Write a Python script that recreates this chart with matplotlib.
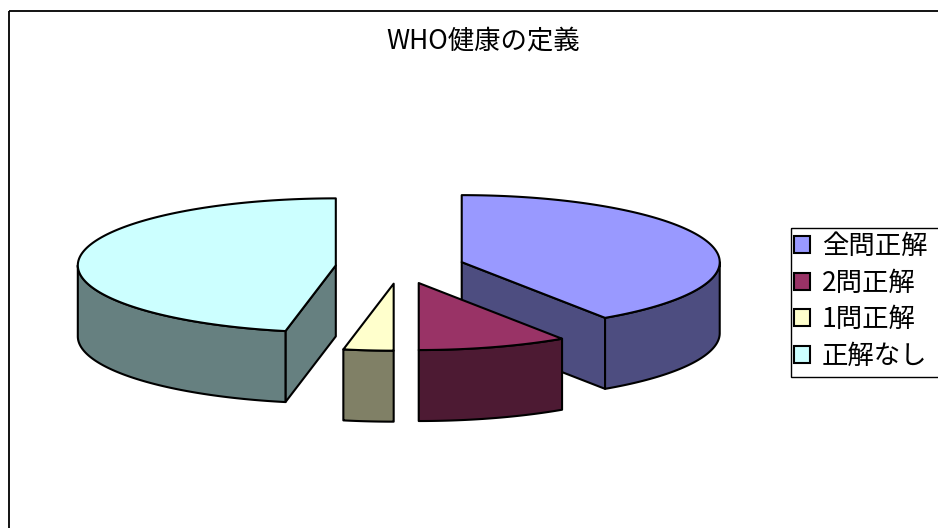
import numpy as np
import matplotlib
matplotlib.use('Agg')
import matplotlib.pyplot as plt
import matplotlib.patches as patches

plt.rcParams['font.family'] = ['Noto Sans CJK JP', 'DejaVu Sans']

### Data ###
title = 'WHO健康の定義'
labels = ['全問正解', '2問正解', '1問正解', '正解なし']
counts = [13, 3, 1, 15]
top_colors = ['#9999FF', '#993366', '#FFFFCC', '#CCFFFF']
side_colors = ['#4D4D80', '#4D1A33', '#808066', '#668080']

### Layout (pixel units) ###
W, H = 938, 528
cx, cy = 400, 267      # pie centre
rx, ry = 258, 67       # ellipse radii of top face
depth = 71             # thickness of the pie
explode = 0.25
lw = 1.5


def ell(t, ox, oy, dz=0.0):
    t = np.radians(t)
    return np.column_stack([cx + ox + rx * np.cos(t), cy + oy - ry * np.sin(t) + dz])


fig = plt.figure(figsize=(W / 100, H / 100), dpi=100)
ax = fig.add_axes([0, 0, 1, 1])
ax.set_xlim(0, W)
ax.set_ylim(H, 0)
ax.axis('off')

fracs = np.array(counts) / np.sum(counts)
ends = 90 - 360 * np.cumsum(fracs)
starts = np.concatenate([[90], ends[:-1]])

slices = []
for i in range(len(counts)):
    a1, a2 = starts[i], ends[i]
    mid = (a1 + a2) / 2
    ox = explode * rx * np.cos(np.radians(mid))
    oy = -explode * ry * np.sin(np.radians(mid))
    slices.append((np.sin(np.radians(mid)), i, a1, a2, ox, oy))

# back slices first
slices.sort(key=lambda s: -s[0])

for _, i, a1, a2, ox, oy in slices:
    c_top = np.array([[cx + ox, cy + oy]])
    c_bot = c_top + [0, depth]
    # radial cut faces
    if np.cos(np.radians(a1)) < -1e-6:
        e = ell([a1], ox, oy)
        quad = np.vstack([c_top, e, e + [0, depth], c_bot])
        ax.add_patch(patches.Polygon(quad, fc=side_colors[i], ec='black', lw=lw, joinstyle='round'))
    if np.cos(np.radians(a2)) > 1e-6:
        e = ell([a2], ox, oy)
        quad = np.vstack([c_top, e, e + [0, depth], c_bot])
        ax.add_patch(patches.Polygon(quad, fc=side_colors[i], ec='black', lw=lw, joinstyle='round'))
    # outer curved side (front half only)
    hi, lo = min(a1, 0), max(a2, -180)
    if hi > lo:
        t = np.linspace(hi, lo, 200)
        side = np.vstack([ell(t, ox, oy), ell(t[::-1], ox, oy, depth)])
        ax.add_patch(patches.Polygon(side, fc=side_colors[i], ec='black', lw=lw, joinstyle='round'))
    # top face
    t = np.linspace(a1, a2, 300)
    top = np.vstack([c_top, ell(t, ox, oy)])
    ax.add_patch(patches.Polygon(top, fc=top_colors[i], ec='black', lw=lw, joinstyle='round'))

# chart area border
ax.add_patch(patches.Rectangle((9, 11), 2000, 2000, fill=False, ec='black', lw=1.3))

ax.text(483, 41, title, ha='center', va='center', fontsize=19)

# legend
handles = [patches.Patch(fc=c, ec='black', lw=1.5) for c in top_colors]
leg = fig.legend(handles, labels, loc='upper left', bbox_to_anchor=(794 / W, 1 - 233 / H),
                 borderaxespad=0, borderpad=0, frameon=False, fontsize=19,
                 handlelength=0.6, handleheight=0.6, handletextpad=0.45, labelspacing=0.36)
ax.add_patch(patches.Rectangle((791, 228), 300, 149, fill=False, ec='black', lw=1.0))

fig.savefig('out.png', dpi=100)
